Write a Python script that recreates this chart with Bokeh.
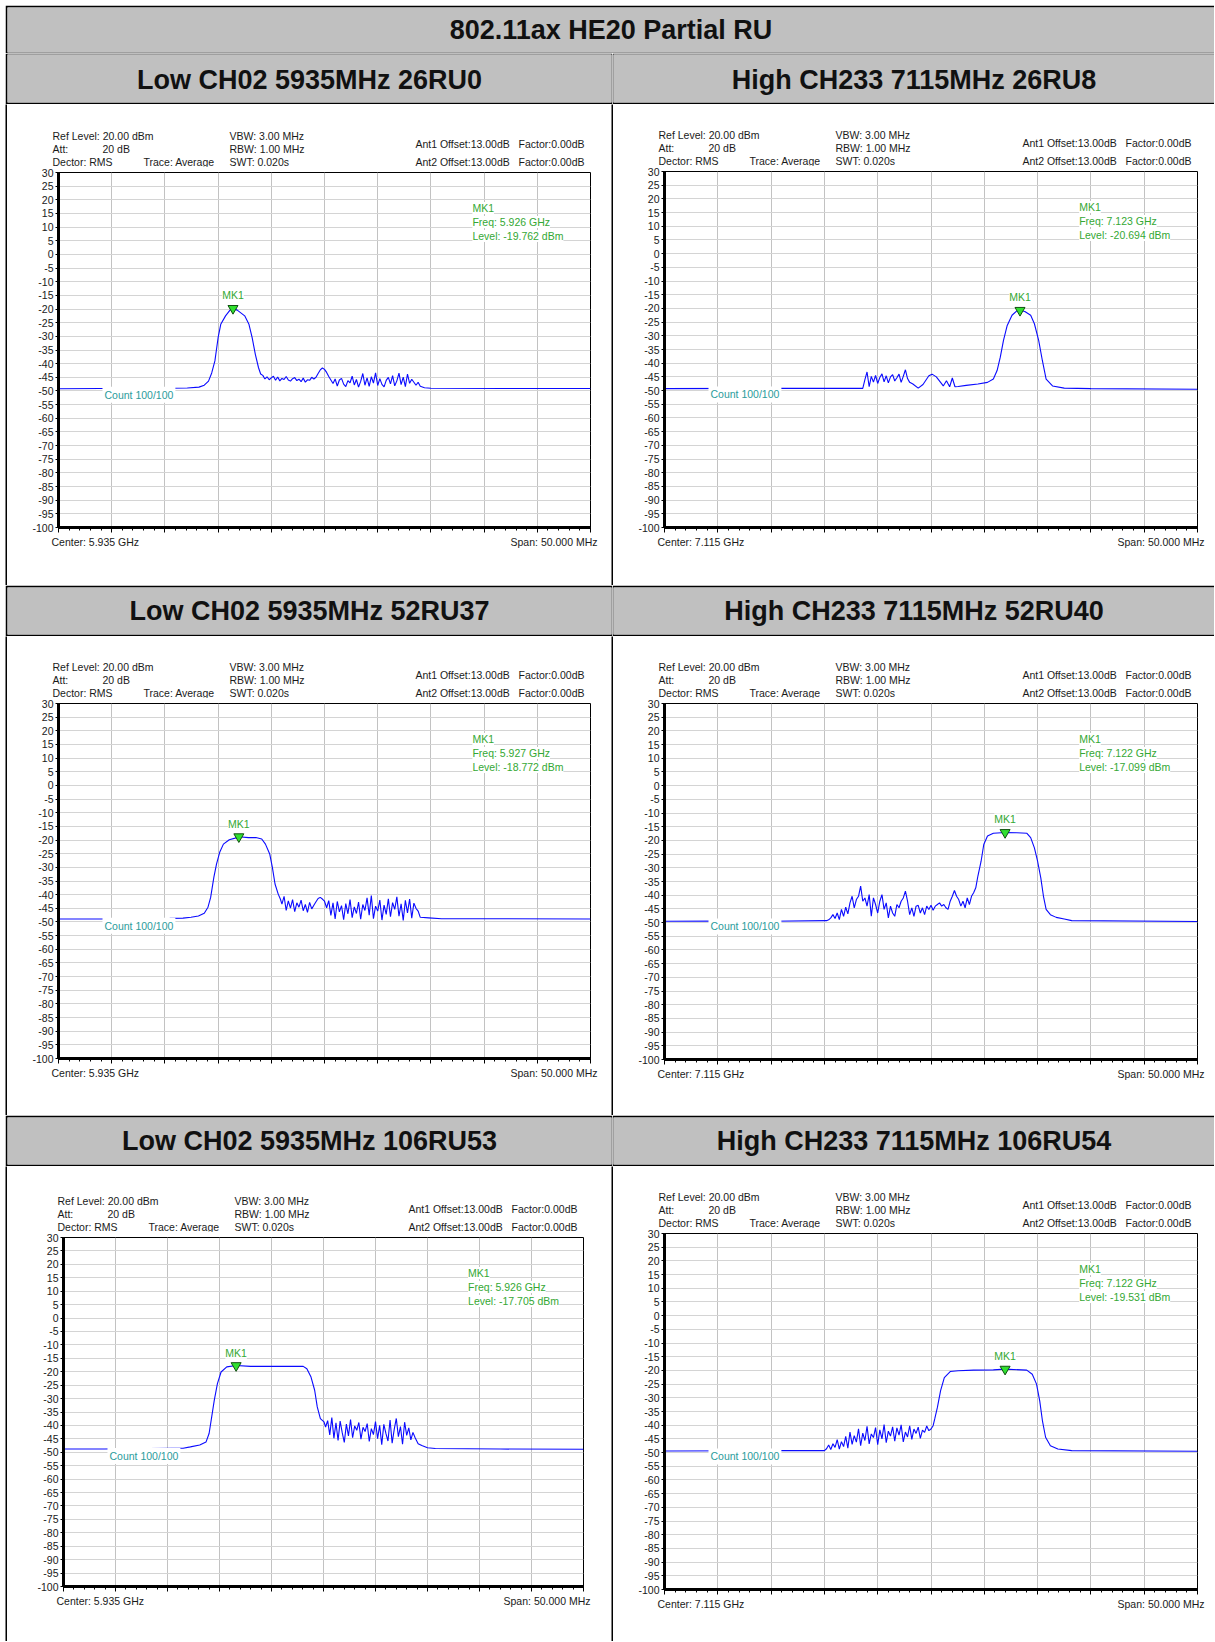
from bokeh.plotting import figure
from bokeh.models import Range1d, Label, FixedTicker, Spacer
from bokeh.layouts import column, row
from bokeh.embed import file_html
from bokeh.resources import INLINE

FONT = "Liberation Sans"

# ---------------- data ----------------
main_title = "802.11ax HE20 Partial RU"
panel_titles = ["Low CH02 5935MHz 26RU0", "High CH233 7115MHz 26RU8",
                "Low CH02 5935MHz 52RU37", "High CH233 7115MHz 52RU40",
                "Low CH02 5935MHz 106RU53", "High CH233 7115MHz 106RU54"]
center_text = ["5.935 GHz", "7.115 GHz", "5.935 GHz", "7.115 GHz", "5.935 GHz", "7.115 GHz"]
start_mhz = [5910.0, 7090.0, 5910.0, 7090.0, 5910.0, 7090.0]
span_mhz = 50.0
y_ticks = [30, 25, 20, 15, 10, 5, 0, -5, -10, -15, -20, -25, -30, -35, -40, -45,
           -50, -55, -60, -65, -70, -75, -80, -85, -90, -95, -100]

mk_freq = [5926.4, 7123.35, 5926.95, 7121.95, 5926.6, 7121.95]
mk_level = [-19.762, -20.694, -18.772, -17.099, -17.705, -19.531]
mk_freq_text = ["5.926 GHz", "7.123 GHz", "5.927 GHz", "7.122 GHz", "5.926 GHz", "7.122 GHz"]

p1_freq = [5910.0, 5914.0, 5920.5, 5922.1, 5923.2, 5923.7, 5924.1, 5924.4, 5924.7, 5925.0, 5925.25,
           5925.7, 5926.1, 5926.4, 5926.8, 5927.5, 5927.9, 5928.2, 5928.5, 5928.8, 5929.0,
           5929.2, 5929.4, 5929.6, 5929.8, 5930.0, 5930.2, 5930.4, 5930.6, 5930.8, 5931.0, 5931.2,
           5931.4, 5931.6, 5931.8, 5932.0, 5932.2, 5932.4, 5932.6, 5932.8, 5933.0, 5933.2, 5933.4,
           5933.6, 5933.8, 5934.0,
           5934.2, 5934.4, 5934.6, 5934.8, 5935.0, 5935.2, 5935.4, 5935.6,
           5935.8, 5936.0, 5936.2, 5936.4, 5936.6, 5936.8, 5937.0, 5937.2, 5937.4, 5937.6, 5937.8,
           5938.0, 5938.2, 5938.4, 5938.6, 5938.8, 5939.0, 5939.2, 5939.4, 5939.6, 5939.8, 5940.0,
           5940.2, 5940.4, 5940.6, 5940.8, 5941.0, 5941.2, 5941.4, 5941.6, 5941.8, 5942.0, 5942.2,
           5942.4, 5942.6, 5942.8, 5943.0, 5943.2, 5943.4, 5943.6,
           5943.8, 5944.0, 5944.4, 5945.0, 5952.0, 5960.0]
p1_level = [-49.2, -49.1, -49.0, -48.9, -48.6, -47.9, -46.4, -43.4, -39.0, -30.5, -25.6,
            -22.5, -20.5, -19.76, -20.4, -22.5, -25.6, -30.5, -36.6, -41.5, -43.8,
            -44.3, -45.6, -44.8, -45.9, -45.2, -44.6, -46.1, -44.9, -46.3, -45.4, -45.8,
            -44.7, -46.0, -46.4, -45.5, -45.1, -46.2, -45.7, -46.6, -45.3, -46.8, -45.9,
            -46.1, -45.0, -45.6,
            -45.0, -43.6, -42.3, -41.6, -42.1, -43.2, -44.7, -46.0,
            -47.3, -45.6, -48.2, -46.0, -45.4, -47.5, -48.4, -46.2, -47.0, -44.6, -47.8,
            -45.8, -48.6, -46.5, -43.6, -47.9, -45.2, -48.3, -44.8, -47.1, -43.4, -48.0,
            -45.5, -47.6, -48.5, -46.1, -45.0, -47.4, -44.4, -48.1, -46.3, -43.5, -47.7,
            -44.9, -48.4, -43.8, -47.2, -45.7, -46.8, -47.9,
            -46.8, -48.3, -48.8, -49.0, -49.1, -49.1]

p2_freq = [7090.0, 7100.0, 7108.6,
           7108.8, 7109.0, 7109.2, 7109.4, 7109.6, 7109.8, 7110.0, 7110.2, 7110.4, 7110.6, 7110.8,
           7111.0, 7111.2, 7111.4, 7111.6, 7111.8, 7112.0, 7112.2, 7112.4, 7112.6, 7112.8, 7113.0,
           7113.3, 7113.8, 7114.25, 7114.8, 7115.1, 7115.5, 7115.9, 7116.15, 7116.45, 7116.75,
           7117.0, 7117.25, 7117.55,
           7118.3, 7119.4, 7120.3, 7120.85, 7121.2, 7121.5, 7121.8, 7122.15, 7122.6, 7123.05,
           7123.35, 7123.8, 7124.35, 7124.7, 7125.1, 7125.45, 7125.8, 7126.4, 7127.5, 7130.0, 7140.0]
p2_level = [-49.3, -49.2, -49.2,
            -46.0, -43.2, -48.6, -44.8, -46.9, -44.5, -47.4, -45.2, -43.9, -46.8, -44.6,
            -47.2, -45.0, -44.2, -46.5, -45.3, -44.0, -47.0, -44.8, -42.4, -45.6, -47.0,
            -47.6, -49.1, -47.8, -44.6, -44.0, -45.0, -47.0, -48.3, -46.4, -48.6,
            -45.4, -48.6, -48.5,
            -48.1, -47.6, -47.0, -45.8, -42.7, -37.8, -31.7, -26.2, -22.5, -20.9,
            -20.69, -21.1, -22.5, -25.6, -31.7, -39.1, -45.8, -48.3, -49.1, -49.3, -49.5]

p3_freq = [5910.0, 5914.0, 5920.45, 5921.7, 5922.45, 5923.15, 5923.7, 5924.05, 5924.3, 5924.6,
           5924.85, 5925.15, 5925.5, 5926.05, 5926.6, 5926.95, 5927.85, 5928.55, 5929.1, 5929.45,
           5929.85, 5930.1, 5930.35, 5930.65, 5930.85,
           5931.0, 5931.2, 5931.4, 5931.6, 5931.8, 5932.0, 5932.2, 5932.4, 5932.6, 5932.8, 5933.0,
           5933.2, 5933.4, 5933.6, 5933.8, 5934.0, 5934.2, 5934.4, 5934.6, 5934.8, 5935.0,
           5935.2, 5935.4, 5935.6, 5935.8, 5936.0, 5936.2, 5936.4, 5936.6, 5936.8, 5937.0,
           5937.2, 5937.4, 5937.6, 5937.8, 5938.0, 5938.2, 5938.4, 5938.6, 5938.8, 5939.0,
           5939.2, 5939.4, 5939.6, 5939.8, 5940.0, 5940.2, 5940.4, 5940.6, 5940.8, 5941.0,
           5941.2, 5941.4, 5941.6, 5941.8, 5942.0, 5942.2, 5942.4, 5942.6, 5942.8, 5943.0,
           5943.2, 5943.4, 5943.6,
           5943.8, 5944.0, 5944.8, 5946.0, 5960.0]
p3_level = [-48.9, -48.9, -48.7, -48.6, -48.3, -47.8, -46.8, -44.6, -41.0, -33.7,
            -28.8, -24.5, -21.5, -19.9, -19.3, -18.77, -19.1, -19.1, -19.6, -21.5,
            -25.1, -30.0, -36.1, -39.8, -41.6,
            -43.5, -40.6, -45.8, -42.3, -44.9, -41.8, -46.2, -43.0, -44.6, -42.0, -45.9,
            -43.6, -46.5, -42.8, -45.2, -43.9, -42.6, -41.4, -41.0, -41.6, -42.4,
            -44.8, -42.2, -47.6, -43.0, -48.9, -42.5, -46.3, -44.0, -49.2, -43.3,
            -47.0, -41.8, -48.4, -44.5, -46.9, -42.7, -49.0, -43.6, -45.8, -41.2,
            -47.5, -40.3, -48.8, -44.2, -46.0, -42.0, -49.3, -43.8, -47.2, -41.5,
            -48.1, -42.9, -45.4, -40.8, -47.9, -43.4, -49.4, -42.1, -46.7, -41.6,
            -48.6, -43.1, -45.0,
            -46.0, -48.3, -48.5, -48.8, -48.9]

p4_freq = [7090.0, 7095.0, 7100.0, 7105.2,
           7105.4, 7105.6, 7105.8, 7106.0, 7106.2, 7106.4, 7106.6, 7106.8, 7107.0, 7107.2,
           7107.4, 7107.6, 7107.8, 7108.0, 7108.2, 7108.4, 7108.6, 7108.8, 7109.0, 7109.2,
           7109.4, 7109.6, 7109.8, 7110.0, 7110.2, 7110.4, 7110.6, 7110.8, 7111.0, 7111.2,
           7111.4, 7111.6, 7111.8, 7112.0, 7112.2, 7112.4, 7112.6, 7112.8, 7113.0, 7113.2,
           7113.4, 7113.6, 7113.8, 7114.0, 7114.2, 7114.4, 7114.6, 7114.8, 7115.0, 7115.2,
           7115.4, 7115.6, 7115.8, 7116.0, 7116.2, 7116.4, 7116.6, 7116.8, 7117.0, 7117.2,
           7117.4, 7117.6, 7117.8, 7118.0, 7118.2, 7118.4, 7118.6, 7118.8, 7119.0,
           7119.2, 7119.4, 7119.7, 7119.95, 7120.3, 7120.85, 7121.95, 7123.05, 7124.0, 7124.35,
           7124.7, 7125.0, 7125.3, 7125.55, 7125.8, 7126.2, 7126.75, 7127.5, 7128.2, 7140.0]
p4_level = [-49.5, -49.4, -49.5, -49.3,
            -49.0, -48.3, -47.1, -48.5, -46.5, -48.9, -45.2, -47.7, -44.4, -46.8,
            -42.8, -40.4, -44.6, -41.6, -40.4, -36.7, -42.2, -41.0, -44.0, -39.8,
            -47.7, -41.0, -43.4, -46.5, -42.2, -39.8, -45.2, -42.8, -48.3, -44.0,
            -46.5, -47.7, -43.4, -44.6, -42.2, -41.0, -38.5, -42.2, -47.1, -44.6,
            -47.7, -44.0, -43.7, -46.5, -44.6, -47.1, -44.0, -45.2, -43.7, -45.5,
            -44.0, -43.4, -42.8, -44.0, -43.4, -44.6, -45.2, -42.2, -40.4, -38.3,
            -40.4, -41.6, -44.0, -42.2, -44.6, -41.0, -43.4, -40.4, -39.1,
            -37.3, -33.0, -27.6, -21.5, -18.4, -17.4, -17.1, -17.2, -17.4, -19.0,
            -22.7, -27.6, -33.7, -40.4, -45.2, -47.1, -48.1, -48.7, -49.3, -49.6]

p5_freq = [5910.0, 5913.9, 5920.4, 5921.5, 5922.2, 5923.1, 5923.7, 5924.0, 5924.25, 5924.5,
           5924.8, 5925.15, 5925.7, 5926.6, 5928.0, 5930.0, 5931.5, 5933.05, 5933.4, 5933.8,
           5934.15, 5934.4, 5934.7, 5935.05,
           5935.2, 5935.4, 5935.6, 5935.8, 5936.0, 5936.2, 5936.4, 5936.6, 5936.8, 5937.0,
           5937.2, 5937.4, 5937.6, 5937.8, 5938.0, 5938.2, 5938.4, 5938.6, 5938.8, 5939.0,
           5939.2, 5939.4, 5939.6, 5939.8, 5940.0, 5940.2, 5940.4, 5940.6, 5940.8, 5941.0,
           5941.2, 5941.4, 5941.6, 5941.8, 5942.0, 5942.2, 5942.4, 5942.6, 5942.8, 5943.0,
           5943.2, 5943.4, 5943.6, 5943.8,
           5944.1, 5944.45, 5945.0, 5945.75, 5952.0, 5960.0]
p5_level = [-48.8, -48.8, -48.5, -48.5, -48.0, -47.3, -46.2, -43.0, -36.8, -30.6,
            -24.4, -20.1, -18.2, -17.7, -18.0, -18.0, -17.95, -18.0, -18.9, -22.0,
            -26.9, -33.1, -37.5, -38.7,
            -40.6, -38.2, -43.5, -37.1, -44.8, -39.0, -45.6, -38.4, -42.7, -46.3,
            -39.5, -43.9, -37.8, -44.6, -40.2, -41.8, -38.9, -45.1, -40.7, -42.3,
            -39.3, -46.0, -41.2, -43.4, -38.6, -44.9, -40.0, -47.2, -39.6, -43.0,
            -45.8, -38.0, -46.6, -41.5, -37.4, -44.2, -40.4, -47.0, -38.8, -43.7,
            -40.9, -45.4, -42.6, -44.5,
            -46.8, -47.5, -48.3, -48.6, -48.8, -48.9]

p6_freq = [7090.0, 7100.0, 7105.0,
           7105.2, 7105.4, 7105.6, 7105.8, 7106.0, 7106.2, 7106.4, 7106.6, 7106.8, 7107.0,
           7107.2, 7107.4, 7107.6, 7107.8, 7108.0, 7108.2, 7108.4, 7108.6, 7108.8, 7109.0,
           7109.2, 7109.4, 7109.6, 7109.8, 7110.0, 7110.2, 7110.4, 7110.6, 7110.8, 7111.0,
           7111.2, 7111.4, 7111.6, 7111.8, 7112.0, 7112.2, 7112.4, 7112.6, 7112.8, 7113.0,
           7113.2, 7113.4, 7113.6, 7113.8, 7114.0, 7114.2, 7114.4, 7114.6, 7114.8,
           7115.0, 7115.2, 7115.35, 7115.6, 7115.9, 7116.25, 7116.8, 7117.55, 7119.0, 7120.85,
           7121.95, 7123.98, 7124.5, 7124.9, 7125.2, 7125.45, 7125.75, 7126.2, 7126.9, 7128.2, 7140.0]
p6_level = [-49.4, -49.3, -49.3,
            -48.6, -47.2, -48.9, -46.8, -48.1, -45.3, -48.7, -46.0, -47.8, -44.1,
            -48.4, -42.5, -47.0, -43.8, -46.2, -41.3, -47.5, -42.9, -45.6, -40.4,
            -46.8, -43.2, -44.5, -40.9, -47.1, -41.7, -45.0, -39.8, -46.4, -42.2,
            -44.0, -40.6, -45.8, -41.0, -43.6, -39.9, -46.1, -42.5, -44.3, -40.2,
            -45.2, -41.4, -43.0, -40.7, -44.8, -41.8, -42.6, -40.3, -42.0,
            -41.4, -40.2, -37.7, -33.5, -27.4, -22.6, -20.4, -20.1, -19.9, -19.8,
            -19.53, -19.9, -21.4, -25.0, -31.1, -38.3, -44.4, -47.5, -48.7, -49.3, -49.5]

traces = [(p1_freq, p1_level), (p2_freq, p2_level), (p3_freq, p3_level),
          (p4_freq, p4_level), (p5_freq, p5_level), (p6_freq, p6_level)]
for f_, l_ in traces:
    assert len(f_) == len(l_), (len(f_), len(l_))

# ---------------- styling helpers ----------------
HEADER_GRAY = "#c0c0c0"
TRACE = "#0a0aff"
GREEN = "#34a834"
TEAL = "#2a9c9c"
TXT = "#1a1a1a"
GAP = " \u00a0\u00a0"


def blank_fig(w, h, bl, br, bt, bb, bg, border, pixel=False):
    yr = Range1d(h, 0) if pixel else Range1d(0, 1)
    xr = Range1d(0, w) if pixel else Range1d(0, 1)
    p = figure(width=w, height=h, x_range=xr, y_range=yr,
               toolbar_location=None, output_backend="svg",
               x_axis_location=None, y_axis_location=None,
               min_border_left=bl, min_border_right=br, min_border_top=bt, min_border_bottom=bb,
               background_fill_color=bg, border_fill_color=border, outline_line_color=None)
    p.xgrid.visible = False
    p.ygrid.visible = False
    return p


def bar(h):
    return blank_fig(2, h, 0, 0, 0, 0, "black", "black")


def header(text, w, h, bl, br, bt, bb, ty=0.5):
    p = blank_fig(w, h, bl, br, bt, bb, HEADER_GRAY, "black")
    p.add_layout(Label(x=0.5, y=ty, text=text, text_align="center", text_baseline="middle",
                       text_font=FONT, text_font_style="bold", text_font_size="27px",
                       text_color="#111111"))
    return p


def lab(p, x, y, text, color=TXT, align="left", bg=None, size="10.5px", pad=0):
    kw = dict(x=x, y=y, text=text, text_align=align, text_baseline="middle",
              text_font=FONT, text_font_size=size, text_color=color)
    if bg is not None:
        kw.update(background_fill_color=bg, padding=pad)
    p.add_layout(Label(**kw))


PT = 5   # space above the frame inside the plot figure
PB = 8   # space below the frame inside the plot figure


def panel(i, w, h, bl, br, bt, bb):
    """A panel cell made of: text strip above, the spectrum plot, text strip below."""
    x0 = start_mhz[i]
    x1 = x0 + span_mhz
    fw = w - bl - br
    fh = h - bt - bb
    top_h = bt - PT
    plot_h = PT + fh + PB
    bot_h = h - top_h - plot_h

    # --- text strip above (pixel coordinates, y downward) ---
    top = blank_fig(w, top_h, 0, 0, 0, 0, "white", "white", pixel=True)
    lab(top, bl - 6, bt - 37, "Ref Level: 20.00 dBm")
    lab(top, bl - 6, bt - 24, "Att:")
    lab(top, bl + 44, bt - 24, "20 dB")
    lab(top, bl - 6, bt - 11, "Dector: RMS")
    lab(top, bl + 85, bt - 11, "Trace: Average")
    lab(top, bl + 171, bt - 37, "VBW: 3.00 MHz")
    lab(top, bl + 171, bt - 24, "RBW: 1.00 MHz")
    lab(top, bl + 171, bt - 11, "SWT: 0.020s")
    lab(top, bl + fw - 6, bt - 28.5, "Ant1 Offset:13.00dB" + GAP + "Factor:0.00dB", align="right")
    lab(top, bl + fw - 6, bt - 11, "Ant2 Offset:13.00dB" + GAP + "Factor:0.00dB", align="right")

    # --- text strip below ---
    bot = blank_fig(w, bot_h, 0, 0, 0, 0, "white", "white", pixel=True)
    lab(bot, bl - 7, 14.5 - PB, "Center: " + center_text[i])
    lab(bot, bl + fw + 7, 14.5 - PB, "Span: 50.000 MHz", align="right")

    # --- spectrum plot ---
    p = figure(width=w, height=plot_h, x_range=Range1d(x0, x1), y_range=Range1d(-100, 30),
               toolbar_location=None, output_backend="svg",
               min_border_left=bl, min_border_right=br, min_border_top=PT, min_border_bottom=PB,
               background_fill_color="white", border_fill_color="white",
               outline_line_color="black", outline_line_width=1)

    def X(dx):
        return x0 + dx * span_mhz / fw

    def Y(dy):
        return 30 - dy * 130.0 / fh

    xt = FixedTicker(ticks=[x0 + 5 * k for k in range(11)],
                     minor_ticks=[x0 + k for k in range(51)])
    yt = FixedTicker(ticks=y_ticks, minor_ticks=list(range(-100, 31)))
    p.xaxis.ticker = xt
    p.xgrid.ticker = xt
    p.yaxis.ticker = yt
    p.ygrid.ticker = yt
    p.yaxis.major_label_overrides = {t: str(t) for t in y_ticks}
    p.xgrid.grid_line_color = "#c2c2c2"
    p.ygrid.grid_line_color = "#d4d4d4"
    p.xgrid.grid_line_width = 1
    p.ygrid.grid_line_width = 1

    for ax in (p.xaxis[0], p.yaxis[0]):
        ax.axis_line_color = "black"
        ax.axis_line_width = 3
        ax.major_tick_line_color = "black"
        ax.minor_tick_line_color = "black"
        ax.major_tick_in = 0
        ax.minor_tick_in = 0
    p.xaxis.major_tick_out = 5
    p.xaxis.minor_tick_out = 3
    p.xaxis.major_label_text_font_size = "1px"
    p.xaxis.major_label_text_color = None
    p.xaxis.major_label_standoff = 0
    p.yaxis.major_tick_out = 3
    p.yaxis.minor_tick_out = 1
    p.yaxis.major_label_standoff = 2
    p.yaxis.major_label_text_font = FONT
    p.yaxis.major_label_text_font_size = "10.5px"
    p.yaxis.major_label_text_color = TXT

    f_, l_ = traces[i]
    p.line(f_, l_, line_color=TRACE, line_width=1.1)

    # marker
    p.scatter([mk_freq[i]], [mk_level[i]], marker="inverted_triangle", size=10,
              fill_color="#30e030", line_color="#105010", line_width=1)
    lab(p, mk_freq[i], mk_level[i] + 4.8, "MK1", color=GREEN, align="center", bg="white")

    # marker readout
    mx = X(0.778 * fw)
    lab(p, mx, Y(35.5), "MK1", color=GREEN, bg="white")
    lab(p, mx, Y(49.5), "Freq: " + mk_freq_text[i], color=GREEN, bg="white")
    lab(p, mx, Y(63.5), "Level: %.3f dBm" % mk_level[i], color=GREEN, bg="white")

    # count label
    lab(p, X(44), -51.4, "Count 100/100", color=TEAL, bg="white", pad=2)
    # wrap the strips in rows so that their frames are not aligned with the plot frame
    return column(row(top, spacing=0), p, row(bot, spacing=0), spacing=0)


# cell geometry (px)
title = header(main_title, 1209, 48, 2, 0, 2, 1)
s1l = header(panel_titles[0], 607, 51, 2, 1, 1, 2, ty=0.47)
s1r = header(panel_titles[1], 602, 51, 1, 0, 1, 2, ty=0.47)
s2l = header(panel_titles[2], 607, 51, 2, 1, 2, 2)
s2r = header(panel_titles[3], 602, 51, 1, 0, 2, 2)
s3l = header(panel_titles[4], 607, 51, 2, 1, 2, 2)
s3r = header(panel_titles[5], 602, 51, 1, 0, 2, 2)

P1 = panel(0, 604, 481, 51, 21, 68, 58)
P2 = panel(1, 601, 481, 51, 17, 67, 58)
P3 = panel(2, 604, 479, 51, 21, 67, 57)
P4 = panel(3, 601, 479, 51, 17, 67, 56)
P5 = panel(4, 604, 475, 56, 28, 71, 55)
P6 = panel(5, 601, 475, 51, 17, 67, 52)

grid = column(
    title,
    row(s1l, s1r, spacing=0),
    row(bar(481), P1, bar(481), P2, spacing=0),
    row(s2l, s2r, spacing=0),
    row(bar(479), P3, bar(479), P4, spacing=0),
    row(s3l, s3r, spacing=0),
    row(bar(475), P5, bar(475), P6, spacing=0),
    spacing=0,
)
layout = row(Spacer(width=5, height=10),
             column(Spacer(width=10, height=5), grid, spacing=0),
             spacing=0)

open("out.html", "w").write(file_html(layout, INLINE))
